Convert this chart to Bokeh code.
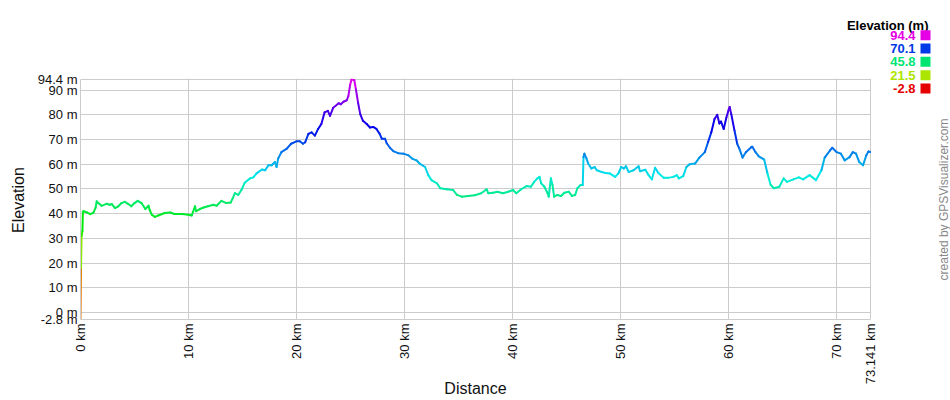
import colorsys
import math
from bokeh.plotting import figure
from bokeh.models import FixedTicker, Label, BoxAnnotation
from bokeh.embed import file_html
from bokeh.resources import INLINE

# ---- data ----
dist_km = [0, 0.05, 0.1, 0.18, 0.22, 0.3, 0.6, 0.9, 1.2, 1.4, 1.5, 1.65, 1.95, 2.4, 2.7, 2.9,
           3.2, 3.5, 3.8, 4.1, 4.4, 4.7, 5.0, 5.3, 5.65, 6.0, 6.3, 6.4, 6.6, 6.9, 7.2, 7.8,
           8.3, 8.7, 9.4, 10.0, 10.3, 10.6, 10.7, 11.05, 11.4, 11.8, 12.3, 12.6, 13.05, 13.5,
           13.9, 14.1, 14.3, 14.6, 14.9, 15.2, 15.7, 16.0, 16.3, 16.8, 17.1, 17.4, 17.7, 18.0,
           18.15, 18.3, 18.6, 19.1, 19.5, 20.0, 20.3, 20.6, 20.8, 21.1, 21.4, 21.7, 22.0, 22.3,
           22.6, 22.9, 23.1, 23.4, 23.9, 24.1, 24.35, 24.65, 24.8, 24.97, 25.1, 25.35, 25.5,
           25.7, 25.9, 26.15, 26.5, 26.8, 27.1, 27.4, 27.7, 27.9, 28.2, 28.35, 28.65, 28.96,
           29.4, 29.9, 30.37, 30.7, 31.1, 31.4, 31.9, 32.2, 32.5, 33.0, 33.3, 33.9, 34.5,
           34.85, 35.3, 35.9, 36.5, 37.1, 37.6, 37.75, 38.2, 38.6, 39.1, 39.6, 40.05, 40.35,
           40.8, 41.3, 41.7, 42.0, 42.3, 42.5, 42.65, 42.95, 43.25, 43.35, 43.55, 43.7, 43.85,
           44.15, 44.5, 44.8, 45.2, 45.5, 45.8, 46.0, 46.3, 46.5, 46.57, 46.65, 46.85, 47.0,
           47.3, 47.6, 47.8, 48.25, 48.6, 49.0, 49.5, 49.8, 50.06, 50.3, 50.5, 50.75, 51.2,
           51.67, 51.8, 52.3, 52.6, 52.9, 53.2, 53.5, 54.0, 54.4, 54.9, 55.2, 55.4, 55.8,
           56.1, 56.4, 56.9, 57.3, 57.8, 58.1, 58.4, 58.7, 58.95, 59.15, 59.3, 59.55, 59.8,
           60.0, 60.1, 60.25, 60.55, 60.8, 61.0, 61.3, 61.6, 62.1, 62.2, 62.5, 62.8, 63.3,
           63.6, 63.9, 64.2, 64.7, 65.1, 65.4, 66.0, 66.5, 66.9, 67.5, 68.1, 68.6, 68.9,
           69.4, 69.6, 70.0, 70.4, 70.75, 71.2, 71.5, 71.8, 72.1, 72.45, 72.75, 72.95, 73.141]
elev_m = [-2.8, 18, 31, 33, 40.8, 41, 40.5, 39.8, 40.4, 42.5, 45, 44.3, 43.2, 44, 43.6, 43.9,
          42.3, 43, 44.3, 44.8, 44, 43, 44.3, 45.2, 44.3, 41.9, 43.2, 41.6, 39.6, 38.7, 39.3,
          40.3, 40.5, 39.9, 39.9, 39.6, 39.3, 43, 41, 41.9, 42.5, 43, 43.6, 43.2, 45.2, 44.3,
          44.5, 46.3, 48.3, 47.6, 49.6, 52.5, 54.3, 54.7, 56.3, 57.9, 57.6, 59.6, 59.6, 60.9,
          58.9, 62.3, 64.9, 66.3, 68.3, 69.3, 69.3, 68.3, 68.9, 72.3, 72.9, 71.6, 74.3, 76.3,
          81, 81.6, 79.6, 82.9, 84.7, 84.3, 85.3, 85.9, 87.6, 92.3, 94.4, 94.0, 90.3,
          84.9, 80.3, 77.6, 76.3, 74.9, 75.1, 74.3, 72.3, 70.3, 70.3, 68.5, 66.7, 65.3,
          64.5, 64.3, 63.6, 62.3, 61.6, 60.3, 58.9, 55.6, 53.6, 52.3, 50.3, 49.9, 49.6,
          47.6, 46.9, 47.2, 47.5, 48.3, 49.9, 48.3, 48.5, 48.9, 48.3, 48.9, 49.6, 48.3,
          49.9, 51.2, 50.9, 52.9, 54.3, 54.9, 52.3, 50.9, 48.3, 46.9, 54.3, 51.6, 46.9,
          47.6, 47.2, 48.5, 48.9, 47.2, 47.6, 50.3, 51.6, 51.6, 62.9, 64.3, 62.3, 60.3,
          58.3, 58.9, 57.6, 56.9, 56.5, 56.3, 54.9, 56.3, 58.9, 58.3, 59.2, 56.9, 57.6,
          59.2, 57.2, 57.8, 55.6, 53.9, 58.6, 56.5, 54.5, 54.5, 54.9, 55.6, 54.3, 55.2,
          58.9, 60, 60.3, 62.7, 64.9, 68.9, 72.9, 78.3, 80, 76.5, 77.3, 74.3, 78.9,
          81.9, 83.2, 80.3, 73.6, 68.3, 66.3, 62.7, 64.9, 66.9, 67.1, 64.9, 63.2, 61.9,
          56.3, 51.6, 50.3, 50.9, 54.3, 52.9, 53.9, 54.7, 53.9, 55.6, 53.6, 57.6, 62.7,
          65.6, 66.7, 64.9, 64.3, 61.6, 62.9, 64.9, 64.3, 60.9, 59.6, 63.6, 65.2, 65.0]

x_ticks = [0, 10, 20, 30, 40, 50, 60, 70, 73.141]
x_tick_labels = ["0 km", "10 km", "20 km", "30 km", "40 km", "50 km", "60 km", "70 km", "73.141 km"]
y_ticks = [-2.8, 0, 10, 20, 30, 40, 50, 60, 70, 80, 90, 94.4]
y_tick_labels = ["-2.8 m", "0 m", "10 m", "20 m", "30 m", "40 m", "50 m", "60 m", "70 m",
                 "80 m", "90 m", "94.4 m"]
legend_values = [94.4, 70.1, 45.8, 21.5, -2.8]
legend_labels = ["94.4", "70.1", "45.8", "21.5", "-2.8"]

E_MIN, E_MAX = min(elev_m), max(elev_m)
X_MAX = x_ticks[-1]

# layout geometry (pixels)
W, H = 950, 400
FL, FB = 80, 80                # left / bottom border
DATA_W, DATA_H = 790, 241      # pixel size of the data area
FRAME_W, FRAME_H = W - FL, H - FB
px_x = X_MAX / DATA_W
px_y = (E_MAX - E_MIN) / DATA_H
x_end = FRAME_W * px_x
y_end = E_MIN + FRAME_H * px_y
NB = "\u00a0"


def elev_color(e, v=0.92):
    h = (e - E_MIN) / (E_MAX - E_MIN) * 300.0 / 360.0
    r, g, b = colorsys.hsv_to_rgb(h, 1.0, v)
    return "#%02x%02x%02x" % (int(r * 255), int(g * 255), int(b * 255))


FONT = "Liberation Sans"

p = figure(width=W, height=H, x_range=(0, x_end), y_range=(E_MIN, y_end),
           output_backend="svg", toolbar_location=None,
           min_border_left=FL, min_border_right=0, min_border_top=0, min_border_bottom=FB)
p.outline_line_color = None
p.background_fill_color = "white"
p.border_fill_color = "white"
p.title.visible = False

# axes
for ax in (p.xaxis, p.yaxis):
    ax.axis_line_color = "#cccccc"
    ax.major_tick_line_color = None
    ax.minor_tick_line_color = None
    ax.major_tick_out = 0
    ax.major_tick_in = 0
    ax.major_label_text_font = FONT
    ax.major_label_text_font_size = "13px"
    ax.major_label_text_color = "#111111"
    ax.axis_label_text_font = FONT
    ax.axis_label_text_font_size = "16px"
    ax.axis_label_text_font_style = "normal"
    ax.axis_label_text_color = "#111111"

p.xaxis.bounds = (0, X_MAX)
p.xaxis.ticker = FixedTicker(ticks=x_ticks)
p.xaxis.major_label_overrides = {t: l for t, l in zip(x_ticks, x_tick_labels)}
p.xaxis.major_label_orientation = math.pi / 2
p.xaxis.major_label_standoff = 4
# the axis title is centred on the whole frame; pad it so it sits centred on the data area
p.xaxis.axis_label = "Distance" + NB * 18
p.xaxis.axis_label_standoff = -7

p.yaxis.bounds = (E_MIN, E_MAX)
p.yaxis.ticker = FixedTicker(ticks=y_ticks)
p.yaxis.major_label_overrides = {t: l for t, l in zip(y_ticks, y_tick_labels)}
p.yaxis.major_label_standoff = 3
p.yaxis.axis_label = "Elevation" + NB * 18
p.yaxis.axis_label_standoff = 8

p.xgrid.grid_line_color = "#cccccc"
p.ygrid.grid_line_color = "#cccccc"

# coloured profile
x0 = dist_km[:-1]
x1 = dist_km[1:]
y0 = elev_m[:-1]
y1 = elev_m[1:]
cols = [elev_color((a + b) / 2.0) for a, b in zip(y0, y1)]
p.segment(x0=x0, y0=y0, x1=x1, y1=y1, line_color=cols, line_width=2, line_cap="round")

# blank out the grid outside the data area (right margin and top margin)
p.add_layout(BoxAnnotation(left=X_MAX + 0.6 * px_x, fill_color="white", fill_alpha=1.0,
                           line_color=None))
p.add_layout(BoxAnnotation(bottom=E_MAX + 0.6 * px_y, fill_color="white", fill_alpha=1.0,
                           line_color=None))

# legend (screen units, relative to the frame's bottom-left corner)
p.add_layout(Label(x=848, y=294, x_units="screen", y_units="screen", text="Elevation (m)",
                   text_font=FONT, text_font_size="13px", text_font_style="bold",
                   text_align="right", text_baseline="alphabetic", text_color="#000000"))
row_y = [284.3, 271, 257.7, 244.3, 231]
for val, lab, cy in zip(legend_values, legend_labels, row_y):
    c = elev_color(val, v=0.9)
    p.add_layout(Label(x=835, y=cy, x_units="screen", y_units="screen", text=lab,
                       text_font=FONT, text_font_size="13px", text_font_style="bold",
                       text_align="right", text_baseline="middle", text_color=c))
    p.add_layout(BoxAnnotation(left=840, right=850, bottom=cy - 5, top=cy + 5,
                               left_units="screen", right_units="screen",
                               bottom_units="screen", top_units="screen",
                               fill_color=c, fill_alpha=1.0, line_color=None))

# credit
p.add_layout(Label(x=863, y=120, x_units="screen", y_units="screen",
                   text="created by GPSVisualizer.com", angle=math.pi / 2,
                   text_font=FONT, text_font_size="12px", text_align="center",
                   text_baseline="middle", text_color="#888888"))

open("out.html", "w").write(file_html(p, INLINE))
